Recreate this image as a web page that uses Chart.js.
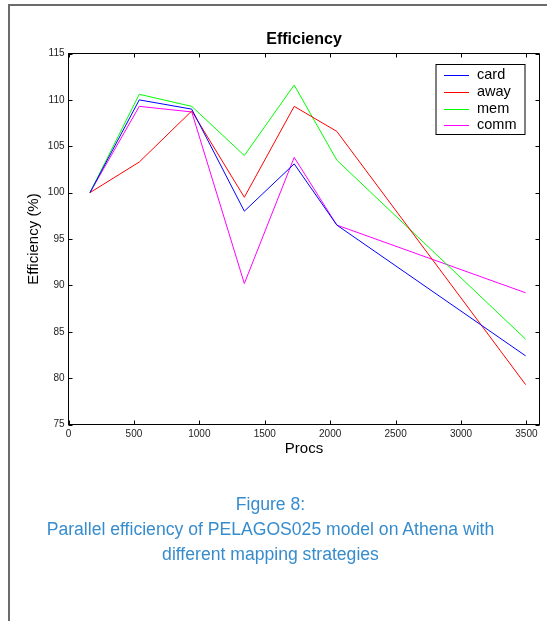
<!DOCTYPE html>
<html><head><meta charset="utf-8">
<script src="https://cdn.jsdelivr.net/npm/chart.js@4/dist/chart.umd.min.js"></script>
<style>
html,body{margin:0;padding:0;background:#fff;width:547px;height:621px;overflow:hidden;}
#wrap{position:relative;width:547px;height:621px;}
canvas{position:absolute;left:0;top:0;}
.bl{position:absolute;left:8px;top:4px;width:2px;height:617px;background:#6b6b6b;}
.bt{position:absolute;left:8px;top:4px;width:539px;height:2px;background:#6b6b6b;}
.cap{position:absolute;left:0;width:541px;text-align:center;font-family:"Liberation Sans",Arial,Helvetica,sans-serif;font-size:17.6px;line-height:25px;color:rgb(55,140,205);white-space:nowrap;}
</style></head>
<body><div id="wrap"><canvas id="c" width="547" height="621"></canvas>
<div class="bl"></div><div class="bt"></div>
<div class="cap" style="top:492px">Figure 8:</div>
<div class="cap" style="top:517px">Parallel efficiency of PELAGOS025 model on Athena with</div>
<div class="cap" style="top:542px">different mapping strategies</div>
</div>
<script>
const procs = [164, 541, 942, 1344, 1725, 2051, 3494];
const card  = [100, 110.0, 109.0, 98.0, 103.1, 96.5, 82.4];
const away  = [100, 103.3, 108.8, 99.5, 109.3, 106.6, 79.3];
const mem   = [100, 110.6, 109.3, 104.0, 111.6, 103.5, 84.2];
const comm  = [100, 109.3, 108.7, 90.2, 103.8, 96.5, 89.2];
const seriesNames = ['card', 'away', 'mem', 'comm'];
const xTicks = [0, 500, 1000, 1500, 2000, 2500, 3000, 3500];
const yTicks = [75, 80, 85, 90, 95, 100, 105, 110, 115];

const FONT = '"Liberation Sans", Arial, Helvetica, sans-serif';
const colors = ['#0000ff', '#ff0000', '#00ff00', '#ff00ff'];
const allSeries = [card, away, mem, comm];

const datasets = allSeries.map((s, i) => ({
  label: seriesNames[i],
  data: procs.map((p, j) => ({x: p, y: s[j]})),
  borderColor: colors[i],
  backgroundColor: colors[i],
  borderWidth: 1,
  pointRadius: 0,
  fill: false,
  tension: 0
}));

const frame = {
  id: 'frame',
  afterDatasetsDraw(chart) {
    const {ctx, chartArea: {left, right, top, bottom}, scales: {x, y}} = chart;
    ctx.save();
    ctx.strokeStyle = '#000';
    ctx.lineWidth = 1;
    ctx.beginPath();
    ctx.rect(left, top, right - left, bottom - top);
    x.ticks.forEach(t => {
      const px = Math.round(x.getPixelForValue(t.value)) + 0.5;
      ctx.moveTo(px, bottom); ctx.lineTo(px, bottom - 4);
      ctx.moveTo(px, top); ctx.lineTo(px, top + 4);
    });
    y.ticks.forEach(t => {
      const py = Math.round(y.getPixelForValue(t.value)) + 0.5;
      ctx.moveTo(left, py); ctx.lineTo(left + 4, py);
      ctx.moveTo(right, py); ctx.lineTo(right - 4, py);
    });
    ctx.stroke();
    // legend
    const bx = right - 103.5, by = top + 11, bw = 89, bh = 70;
    ctx.fillStyle = '#fff';
    ctx.fillRect(bx, by, bw, bh);
    ctx.strokeStyle = '#000';
    ctx.strokeRect(bx, by, bw, bh);
    ctx.font = '14.5px ' + FONT;
    ctx.textBaseline = 'middle';
    ctx.textAlign = 'left';
    chart.data.datasets.forEach((d, i) => {
      const ry = by + 10.5 + i * 16.8;
      ctx.beginPath();
      ctx.strokeStyle = d.borderColor;
      ctx.moveTo(bx + 8, Math.round(ry) + 0.5);
      ctx.lineTo(bx + 33, Math.round(ry) + 0.5);
      ctx.stroke();
      ctx.fillStyle = '#000';
      ctx.fillText(d.label, bx + 41, ry);
    });
    ctx.restore();
  }
};

const plain = v => String(v);

new Chart(document.getElementById('c'), {
  type: 'line',
  data: {datasets},
  plugins: [frame],
  options: {
    responsive: false,
    animation: false,
    devicePixelRatio: 1,
    layout: {padding: {left: 0, right: 7.5, top: 0, bottom: 0}},
    plugins: {
      legend: {display: false},
      tooltip: {enabled: false},
      title: {
        display: true, text: 'Efficiency', fullSize: false, color: '#000',
        font: {family: FONT, size: 16, weight: 'bold'},
        padding: {top: 30.3, bottom: 4}
      }
    },
    scales: {
      x: {
        type: 'linear', min: 0, max: 3600,
        afterBuildTicks: s => { s.ticks = xTicks.map(v => ({value: v})); },
        afterFit: s => { s.height = 621 - 424.5; },
        grid: {display: true, drawOnChartArea: false, drawTicks: false},
        border: {display: true, color: '#000', width: 1},
        ticks: {font: {family: FONT, size: 10}, color: '#222', padding: 4, maxRotation: 0, autoSkip: false, callback: plain},
        title: {display: true, text: 'Procs', color: '#000', font: {family: FONT, size: 15}, padding: {top: 0, bottom: 163}}
      },
      y: {
        type: 'linear', min: 75, max: 115,
        afterBuildTicks: s => { s.ticks = yTicks.map(v => ({value: v})); },
        afterFit: s => { s.width = 68.5; },
        grid: {display: true, drawOnChartArea: false, drawTicks: false},
        border: {display: true, color: '#000', width: 1},
        ticks: {font: {family: FONT, size: 10}, color: '#222', padding: 4, autoSkip: false, callback: plain},
        title: {display: true, text: 'Efficiency (%)', color: '#000', font: {family: FONT, size: 15}, padding: {top: 25, bottom: 0}}
      }
    }
  }
});
</script>
</body></html>
